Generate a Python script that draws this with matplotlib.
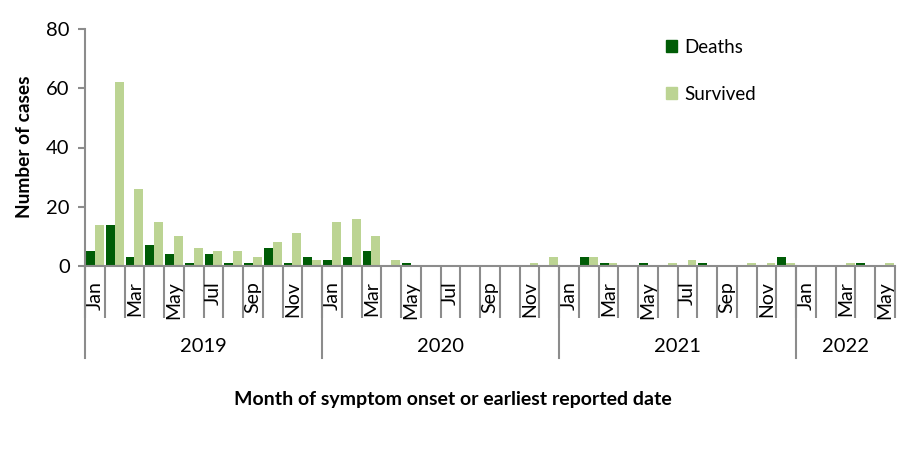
import matplotlib
matplotlib.use("Agg")
import matplotlib.pyplot as plt
import matplotlib.transforms as mtrans
from matplotlib.lines import Line2D
from matplotlib.patches import Patch
import numpy as np

plt.rcParams['font.family'] = ['Lato', 'DejaVu Sans']

years = ["2019", "2020", "2021", "2022"]
months_per_year = [12, 12, 12, 5]
month_names = ["Jan", "Feb", "Mar", "Apr", "May", "Jun",
               "Jul", "Aug", "Sep", "Oct", "Nov", "Dec"]

deaths = [5, 14, 3, 7, 4, 1, 4, 1, 1, 6, 1, 3,
          2, 3, 5, 0, 1, 0, 0, 0, 0, 0, 0, 0,
          0, 3, 1, 0, 1, 0, 0, 1, 0, 0, 0, 3,
          0, 0, 0, 1, 0]
survived = [14, 62, 26, 15, 10, 6, 5, 5, 3, 8, 11, 2,
            15, 16, 10, 2, 0, 0, 0, 0, 0, 0, 1, 3,
            0, 3, 1, 0, 0, 1, 2, 0, 0, 1, 1, 1,
            0, 0, 1, 0, 1]

dark = "#005C06"
light = "#BCD493"
gray = "#8C8C8C"

W, H = 899, 450
fig = plt.figure(figsize=(W / 100, H / 100), dpi=100)
ax = fig.add_axes([85 / W, 1 - 266 / H, (895 - 85) / W, (266 - 29) / H])

n = len(deaths)
x = np.arange(n)
bw = 0.45
ax.bar(x + 0.05 + bw / 2, deaths, width=bw, color=dark, label="Deaths")
ax.bar(x + 0.5 + bw / 2, survived, width=bw, color=light, label="Survived")

ax.set_xlim(0, n)
ax.set_ylim(0, 80)
ax.set_yticks([0, 20, 40, 60, 80])
ax.tick_params(axis='y', direction='out', length=5, width=1.5, color=gray,
               labelsize=14.5, pad=6)

for s in ['top', 'right']:
    ax.spines[s].set_visible(False)
for s in ['left', 'bottom']:
    ax.spines[s].set_color(gray)
    ax.spines[s].set_linewidth(1.5)

# month boundary ticks
ax.set_xticks(np.arange(n + 1))
ax.set_xticklabels([])
ax.tick_params(axis='x', which='major', direction='out', length=37.4,
               width=1.5, color=gray)

# month labels (every other month)
labels = []
for nm in months_per_year:
    for m in range(nm):
        labels.append(month_names[m] if m % 2 == 0 else "")
ax.set_xticks(x + 0.5, minor=True)
ax.set_xticklabels(labels, minor=True, rotation=90, fontsize=14)
ax.tick_params(axis='x', which='minor', length=0, pad=11)

# year separators and labels
trans = mtrans.blended_transform_factory(ax.transData, ax.transAxes)
start = 0
for yr, nm in zip(years, months_per_year):
    ax.add_line(Line2D([start, start], [0, -(358 - 266) / 237], transform=trans,
                       color=gray, lw=1.5, clip_on=False))
    ax.text(start + nm / 2, -(347 - 266) / 237, yr, transform=trans,
            ha='center', va='center', fontsize=14.5)
    start += nm

fig.text(25 / W, 1 - 147 / H, "Number of cases", rotation=90, ha='center',
         va='center', fontsize=13.8, fontweight='bold')
fig.text(453 / W, 1 - 400 / H, "Month of symptom onset or earliest reported date",
         ha='center', va='center', fontsize=14, fontweight='bold')

handles = [Patch(color=dark, label="Deaths"), Patch(color=light, label="Survived")]
fig.legend(handles=handles, loc='upper left', bbox_to_anchor=(666 / W, 1 - 39 / H),
           frameon=False, fontsize=13.5, handlelength=0.6, handleheight=0.6,
           handletextpad=0.4, labelspacing=1.6, borderpad=0, borderaxespad=0)

fig.savefig("out.png", dpi=100)
